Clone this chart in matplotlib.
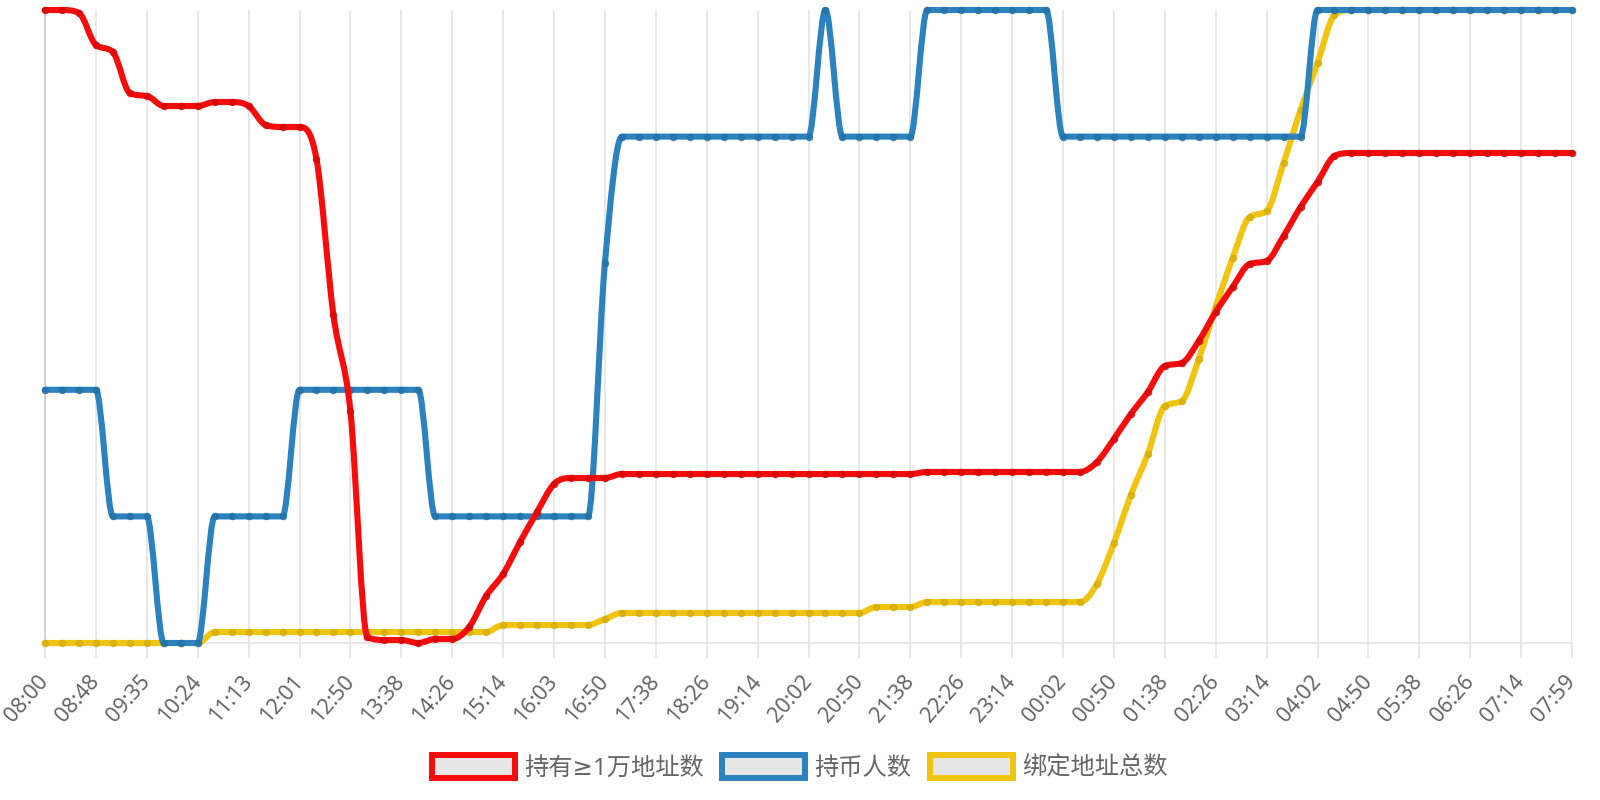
import numpy as np
import matplotlib
matplotlib.use("Agg")
import matplotlib.pyplot as plt
from matplotlib.path import Path
from matplotlib.patches import PathPatch, Patch

plt.rcParams['font.family'] = ['Noto Sans', 'DejaVu Sans', 'Noto Sans CJK SC']

tick_labels = ["08:00", "08:48", "09:35", "10:24", "11:13", "12:01", "12:50", "13:38",
               "14:26", "15:14", "16:03", "16:50", "17:38", "18:26", "19:14", "20:02",
               "20:50", "21:38", "22:26", "23:14", "00:02", "00:50", "01:38", "02:26",
               "03:14", "04:02", "04:50", "05:38", "06:26", "07:14", "07:59"]

# 持有≥1万地址数
holders_10k = [2490, 2490, 2487, 2455, 2448, 2407, 2404, 2394, 2394, 2394, 2398, 2398, 2394, 2375, 2373,
               2373, 2341, 2185, 2089, 1863, 1860, 1860, 1857, 1861, 1861, 1873, 1904, 1926, 1958, 1988,
               2016, 2022, 2022, 2022, 2026, 2026, 2026, 2026, 2026, 2026, 2026, 2026, 2026, 2026, 2026,
               2026, 2026, 2026, 2026, 2026, 2026, 2026, 2028, 2028, 2028, 2028, 2028, 2028, 2028, 2028,
               2028, 2028, 2038, 2061, 2086, 2108, 2134, 2137, 2159, 2188, 2213, 2236, 2239, 2264, 2293,
               2318, 2344, 2347, 2347, 2347, 2347, 2347, 2347, 2347, 2347, 2347, 2347, 2347, 2347, 2347,
               2347]

# 持币人数
holders = [3122, 3122, 3122, 3122, 3121, 3121, 3121, 3120, 3120, 3120, 3121, 3121, 3121, 3121, 3121,
           3122, 3122, 3122, 3122, 3122, 3122, 3122, 3122, 3121, 3121, 3121, 3121, 3121, 3121, 3121,
           3121, 3121, 3121, 3123, 3124, 3124, 3124, 3124, 3124, 3124, 3124, 3124, 3124, 3124, 3124,
           3124, 3125, 3124, 3124, 3124, 3124, 3124, 3125, 3125, 3125, 3125, 3125, 3125, 3125, 3125,
           3124, 3124, 3124, 3124, 3124, 3124, 3124, 3124, 3124, 3124, 3124, 3124, 3124, 3124, 3124,
           3125, 3125, 3125, 3125, 3125, 3125, 3125, 3125, 3125, 3125, 3125, 3125, 3125, 3125, 3125,
           3125]

# 绑定地址总数
bound_total = [5000, 5000, 5000, 5000, 5000, 5000, 5000, 5000, 5000, 5000, 5011, 5011, 5011, 5011, 5011,
               5011, 5011, 5011, 5011, 5011, 5011, 5011, 5011, 5011, 5011, 5011, 5011, 5018, 5018, 5018,
               5018, 5018, 5018, 5024, 5030, 5030, 5030, 5030, 5030, 5030, 5030, 5030, 5030, 5030, 5030,
               5030, 5030, 5030, 5030, 5036, 5036, 5036, 5041, 5041, 5041, 5041, 5041, 5041, 5041, 5041,
               5041, 5041, 5059, 5100, 5148, 5189, 5237, 5242, 5284, 5336, 5385, 5426, 5432, 5480, 5533,
               5580, 5628, 5633, 5633, 5633, 5633, 5633, 5633, 5633, 5633, 5633, 5633, 5633, 5633, 5633,
               5633]

names = ["持有≥1万地址数", "持币人数", "绑定地址总数"]
colors = ["#f70c0c", "#2c82be", "#f1c40f"]
dots = ["#d40a0a", "#2471a6", "#d6ad0c"]


def monotone_path(ax, xs, ys):
    # monotone cubic (Fritsch-Carlson) in pixel space, control points capped to the plot area
    pts = ax.transData.transform(np.column_stack([xs, ys]))
    px, py = pts[:, 0], pts[:, 1]
    left, bottom, right, top = ax.bbox.extents
    n = len(pts)
    delta = np.diff(py) / np.diff(px)
    m = np.zeros(n)
    m[0] = delta[0]
    m[-1] = delta[-1]
    for i in range(1, n - 1):
        if np.sign(delta[i - 1]) != np.sign(delta[i]) or delta[i - 1] == 0 or delta[i] == 0:
            m[i] = 0.0
        else:
            m[i] = (delta[i - 1] + delta[i]) / 2
    for i in range(n - 1):
        if delta[i] == 0:
            m[i] = m[i + 1] = 0.0
            continue
        a = m[i] / delta[i]
        b = m[i + 1] / delta[i]
        mag = a * a + b * b
        if mag <= 9:
            continue
        tau = 3 / np.sqrt(mag)
        m[i] = a * tau * delta[i]
        m[i + 1] = b * tau * delta[i]
    verts = [pts[0]]
    codes = [Path.MOVETO]
    for i in range(n - 1):
        dx = (px[i + 1] - px[i]) / 3
        c1 = [px[i] + dx, py[i] + dx * m[i]]
        c2 = [px[i + 1] - dx, py[i + 1] - dx * m[i + 1]]
        for c in (c1, c2):
            c[0] = min(max(c[0], left), right)
            c[1] = min(max(c[1], bottom), top)
        verts += [c1, c2, pts[i + 1]]
        codes += [Path.CURVE4] * 3
    verts = ax.transData.inverted().transform(np.array(verts))
    return Path(verts, codes)


x = np.arange(len(holders_10k))

fig = plt.figure(figsize=(16, 8), dpi=100)
ax = fig.add_axes([45 / 1600, 157 / 800, 1527 / 1600, 633 / 800])
ax_blue = ax.twinx()
ax_red = ax.twinx()

ax.set_xlim(0, len(x) - 1)
ax.set_xticks(x[::3])
ax.set_xticklabels(tick_labels, rotation=49, ha='right', va='center',
                   rotation_mode='anchor', fontsize=15.5, color='#666666')
ax.tick_params(axis='x', length=11, width=1.1, color='#e2e2e2', pad=14)
ax.grid(axis='x', color='#e2e2e2', linewidth=1.1)
ax.set_axisbelow(True)
for s in ['top', 'right']:
    ax.spines[s].set_visible(False)
ax.spines['bottom'].set_color('#e2e2e2')
ax.spines['bottom'].set_linewidth(1.1)
ax.spines['left'].set_color('#c8c8c8')
ax.spines['left'].set_linewidth(1.1)
ax.set_yticks([])

series = [(ax_red, holders_10k), (ax_blue, holders), (ax, bound_total)]
for a, vals in series:
    a.set_ylim(min(vals), max(vals))
    if a is not ax:
        for s in a.spines.values():
            s.set_visible(False)
        a.set_yticks([])
        a.patch.set_visible(False)

for k, (a, vals) in enumerate(series):
    path = monotone_path(a, x, vals)
    a.add_patch(PathPatch(path, facecolor='none', edgecolor=colors[k], linewidth=4.4,
                          capstyle='round', joinstyle='round', clip_on=False, zorder=3))
    a.plot(x, vals, 'o', linestyle='none', markersize=4.6, markerfacecolor=dots[k],
           markeredgecolor=dots[k], markeredgewidth=0.8, alpha=0.8, clip_on=False, zorder=4)

handles = [Patch(facecolor='#e6e6e6', edgecolor=c, linewidth=4.3) for c in colors]
fig.legend(handles, names, loc='center', bbox_to_anchor=(0.5, 0.04), ncol=3, frameon=False,
           fontsize=17.5, labelcolor='#666666', handlelength=3.4, handleheight=1.1,
           handletextpad=0.4, columnspacing=0.75)

fig.savefig("out.png", dpi=100)
